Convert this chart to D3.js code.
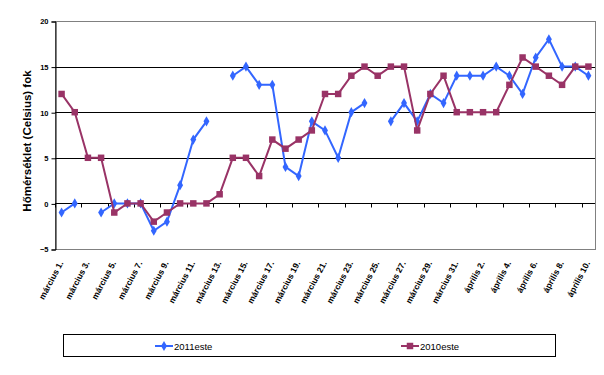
<!DOCTYPE html>
<html>
<head>
<meta charset="utf-8">
<script src="https://cdn.jsdelivr.net/npm/d3@7"></script>
<style>
  body { margin: 0; background: #fff; }
  text { font-family: Arial, "Liberation Sans", sans-serif; }
</style>
</head>
<body>
<svg id="chart" width="604" height="375"></svg>
<script>
// one category per day, 1 March .. 10 April
var days = [];
for (var d = 1; d <= 31; d++) { days.push('március ' + d + '.'); }
for (var a = 1; a <= 10; a++) { days.push('április ' + a + '.'); }

var yTicks = [-5, 0, 5, 10, 15, 20];

// null = no reading
var values2011 = [-1, 0, null, -1, 0, 0, 0, -3, -2, 2, 7, 9, null, 14, 15, 13, 13, 4, 3, 9,
  8, 5, 10, 11, null, 9, 11, 9, 12, 11, 14, 14, 14, 15, 14, 12, 16, 18, 15, 15, 14];
var values2010 = [12, 10, 5, 5, -1, 0, 0, -2, -1, 0, 0, 0, 1, 5, 5, 3, 7, 6, 7, 8,
  12, 12, 14, 15, 14, 15, 15, 8, 12, 14, 10, 10, 10, 10, 13, 16, 15, 14, 13, 15, 15];

var seriesNames = ['2011este', '2010este'];
var seriesColors = ['#3366ff', '#993366'];

var svg = d3.select('#chart');
var plot = { left: 55, right: 595, top: 21, bottom: 249 };

var x = d3.scaleBand()
  .domain(d3.range(days.length))
  .range([plot.left, plot.right]);

var y = d3.scaleLinear()
  .domain([-5, 20])
  .range([plot.bottom, plot.top]);

function cx(i) { return x(i) + x.bandwidth() / 2; }

// plot border
svg.append('rect')
  .attr('x', plot.left + 0.5)
  .attr('y', plot.top + 0.5)
  .attr('width', plot.right - plot.left)
  .attr('height', plot.bottom - plot.top)
  .attr('fill', '#fff')
  .attr('stroke', '#808080');

// gridlines
svg.append('g').selectAll('line')
  .data([5, 10, 15])
  .enter().append('line')
  .attr('x1', plot.left)
  .attr('x2', plot.right)
  .attr('y1', function (v) { return Math.round(y(v)) + 0.5; })
  .attr('y2', function (v) { return Math.round(y(v)) + 0.5; })
  .attr('stroke', '#000');

// value axis
var yAxis = svg.append('g')
  .attr('transform', 'translate(' + (plot.left + 0.5) + ',0.5)')
  .call(d3.axisLeft(y).tickValues(yTicks).tickSize(4).tickPadding(3));
yAxis.select('.domain').attr('stroke', '#000');
yAxis.selectAll('text')
  .attr('font-size', 7.5)
  .attr('font-weight', 'bold')
  .attr('fill', '#000');

// category axis sits on the zero line
var xAxisY = Math.round(y(0)) + 0.5;
svg.append('line')
  .attr('x1', plot.left)
  .attr('x2', plot.right)
  .attr('y1', xAxisY)
  .attr('y2', xAxisY)
  .attr('stroke', '#000');

svg.append('g').selectAll('line')
  .data(d3.range(0, days.length + 1, 2))
  .enter().append('line')
  .attr('x1', function (k) { return Math.round(plot.left + k * x.step()) + 0.5; })
  .attr('x2', function (k) { return Math.round(plot.left + k * x.step()) + 0.5; })
  .attr('y1', xAxisY)
  .attr('y2', xAxisY + 4)
  .attr('stroke', '#000');

svg.append('g').selectAll('text')
  .data(d3.range(0, days.length, 2))
  .enter().append('text')
  .attr('transform', function (i) {
    return 'translate(' + (cx(i) + 2) + ',' + 263 + ') rotate(-62)';
  })
  .attr('text-anchor', 'end')
  .attr('font-size', 8.5)
  .attr('font-weight', 'bold')
  .text(function (i) { return days[i]; });

// axis title
svg.append('text')
  .attr('transform', 'translate(31,' + ((plot.top + plot.bottom) / 2 + 6) + ') rotate(-90)')
  .attr('text-anchor', 'middle')
  .attr('font-size', 11.5)
  .attr('font-weight', 'bold')
  .text('Hőmérséklet (Celsius) fok');

// series, 2011 first so 2010 sits on top
var line = d3.line()
  .defined(function (v) { return v !== null; })
  .x(function (v, i) { return cx(i); })
  .y(function (v) { return y(v); });

var diamond = d3.symbol().type(d3.symbolDiamond).size(30);
var square = d3.symbol().type(d3.symbolSquare).size(42);

[values2011, values2010].forEach(function (vals, idx) {
  svg.append('path')
    .datum(vals)
    .attr('d', line)
    .attr('fill', 'none')
    .attr('stroke', seriesColors[idx])
    .attr('stroke-width', 2);

  svg.append('g').selectAll('path')
    .data(vals.map(function (v, i) { return { v: v, i: i }; })
      .filter(function (p) { return p.v !== null; }))
    .enter().append('path')
    .attr('transform', function (p) { return 'translate(' + cx(p.i) + ',' + y(p.v) + ')'; })
    .attr('d', idx === 0 ? diamond : square)
    .attr('fill', seriesColors[idx]);
});

// legend
svg.append('rect')
  .attr('x', 63.5)
  .attr('y', 334.5)
  .attr('width', 492)
  .attr('height', 22)
  .attr('fill', '#fff')
  .attr('stroke', '#000');

var legendX = [155, 401];
seriesNames.forEach(function (name, k) {
  var g = svg.append('g').attr('transform', 'translate(' + legendX[k] + ',346)');
  g.append('line')
    .attr('x1', 0).attr('x2', 18)
    .attr('stroke', seriesColors[k])
    .attr('stroke-width', 2);
  g.append('path')
    .attr('transform', 'translate(9,0)')
    .attr('d', k === 0 ? diamond : square)
    .attr('fill', seriesColors[k]);
  g.append('text')
    .attr('x', 19)
    .attr('y', 3.5)
    .attr('font-size', 9.5)
    .text(name);
});
</script>
</body>
</html>
